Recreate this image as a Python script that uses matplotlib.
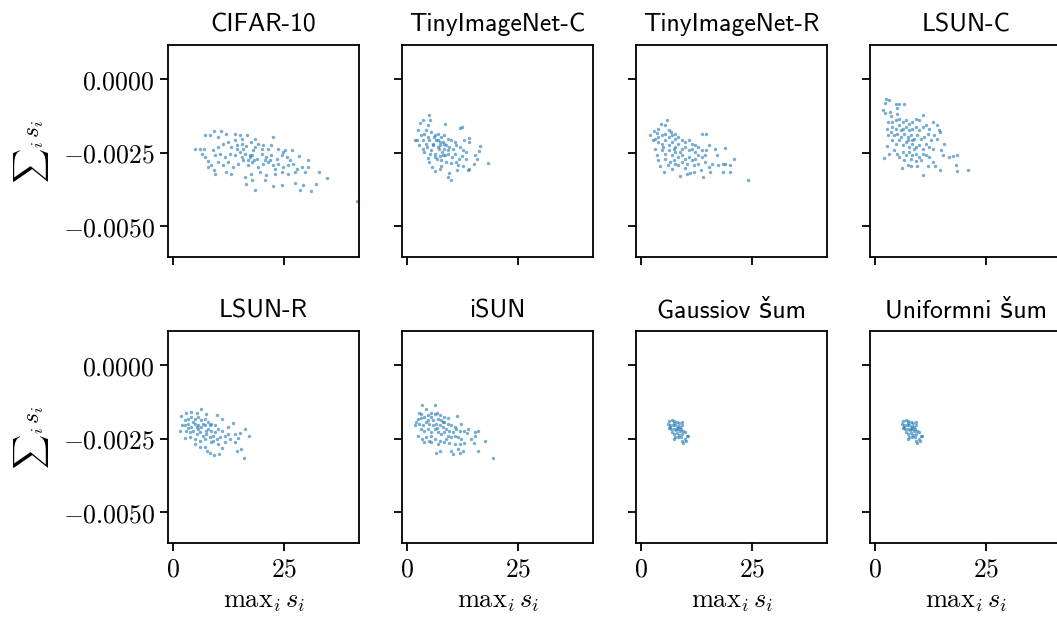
import numpy as np
import matplotlib.pyplot as plt
from matplotlib.ticker import FuncFormatter

# points: (max_i s_i, sum_i s_i in units of 1e-4)
cifar10 = [
    (4.9, -23.7), (6.0, -23.7), (7.0, -23.6), (6.5, -25.3), (7.1, -26.5), (7.9, -27.8), (7.9, -29.9),
    (8.6, -29.1), (9.4, -32.1), (9.2, -30.8), (7.3, -19.1), (8.3, -18.9), (9.2, -17.5), (10.7, -17.5),
    (10.1, -19.7), (12.0, -18.7), (13.9, -18.5), (15.0, -18.9), (16.7, -19.1), (18.4, -20.4), (22.5, -19.8),
    (15.5, -20.4), (13.9, -20.8), (9.0, -24.2), (10.1, -23.1), (11.3, -21.9), (12.4, -21.4), (13.1, -23.1),
    (14.3, -22.5), (15.4, -21.9), (16.5, -22.8), (17.6, -21.4), (19.1, -21.9), (20.3, -22.5), (21.4, -23.6),
    (22.1, -22.5), (23.6, -23.6), (24.8, -24.8), (9.4, -25.9), (10.5, -25.3), (11.6, -26.5), (12.8, -25.3),
    (13.9, -25.9), (15.0, -24.8), (16.1, -25.3), (17.3, -25.9), (18.0, -24.2), (18.8, -27.0), (19.9, -25.3),
    (21.0, -26.5), (22.1, -25.9), (23.3, -27.0), (24.4, -25.9), (25.5, -26.5), (26.3, -27.6), (10.1, -28.2),
    (11.3, -29.3), (12.4, -28.2), (13.5, -29.9), (14.6, -28.7), (15.8, -27.6), (16.9, -29.3), (17.8, -28.2),
    (19.1, -29.9), (20.3, -28.7), (21.4, -28.2), (22.5, -29.3), (23.6, -28.7), (24.8, -29.9), (25.9, -29.3),
    (27.0, -28.7), (27.8, -30.4), (28.9, -29.9), (12.0, -31.6), (13.1, -32.1), (16.1, -33.3), (17.6, -32.1),
    (19.5, -31.6), (21.0, -32.7), (22.9, -32.1), (24.4, -31.6), (25.9, -32.1), (27.4, -31.6), (29.7, -31.6),
    (16.5, -35.6), (18.4, -37.8), (17.8, -34.4), (20.6, -34.2), (22.5, -36.4), (24.4, -36.1), (27.4, -35.3),
    (29.3, -35.8), (28.5, -37.6), (30.9, -38.1), (32.1, -35.6), (32.7, -31.6), (34.5, -33.4), (30.4, -29.9),
    (30.3, -27.4), (28.2, -26.2), (26.7, -23.9), (25.2, -24.2), (41.3, -41.5), (17.3, -26.5), (17.8, -25.9),
    (18.2, -27.4), (16.9, -27.6), (15.4, -26.5), (20.6, -27.6), (21.8, -27.4), (22.9, -30.4), (14.3, -23.6),
    (18.4, -23.1), (19.9, -23.6), (15.8, -23.6),
]

tiny_c = [
    (5.0, -12.3), (3.5, -13.7), (5.2, -14.0), (3.0, -14.9), (4.7, -15.7), (8.6, -15.1), (11.8, -16.6),
    (12.3, -16.2), (2.4, -17.2), (4.3, -17.4), (14.0, -20.0), (13.9, -21.4), (12.9, -20.6), (16.5, -22.7),
    (16.1, -24.4), (15.2, -25.9), (15.7, -27.2), (18.2, -28.6), (15.0, -28.7), (14.0, -30.4), (13.8, -31.0),
    (11.3, -31.0), (9.5, -31.9), (9.3, -33.1), (9.8, -34.2), (7.7, -29.6), (6.2, -31.2), (5.6, -29.9),
    (7.3, -30.4), (12.5, -29.6), (11.4, -29.3), (1.8, -20.6), (2.3, -20.8), (2.8, -22.2), (3.5, -23.6),
    (3.9, -24.8), (4.7, -26.7), (5.2, -25.3), (5.0, -28.2), (3.2, -19.1), (3.9, -18.5), (4.7, -19.7),
    (5.4, -17.9), (6.2, -19.1), (6.9, -18.5), (7.7, -19.7), (8.4, -19.1), (9.2, -20.2), (9.9, -20.8),
    (10.7, -21.4), (3.5, -20.8), (4.3, -21.9), (5.0, -20.8), (5.8, -21.9), (6.5, -20.8), (7.3, -22.5),
    (8.0, -21.4), (8.8, -22.5), (9.5, -23.1), (10.3, -23.6), (11.0, -22.5), (11.8, -23.1), (12.5, -24.2),
    (13.3, -24.8), (4.5, -23.1), (5.4, -24.2), (6.3, -25.3), (7.1, -23.6), (7.8, -24.8), (8.6, -25.9),
    (9.3, -25.3), (10.1, -26.5), (10.8, -25.3), (11.6, -27.0), (12.3, -26.2), (13.3, -27.0), (6.8, -27.0),
    (7.7, -27.6), (8.8, -28.2), (9.9, -28.5), (11.0, -28.2), (6.2, -26.5), (8.0, -25.9), (9.2, -24.2),
    (6.9, -20.8), (8.4, -23.6), (5.8, -22.5), (6.9, -23.1), (7.3, -21.4), (6.0, -19.8), (8.2, -22.0),
    (7.5, -26.2),
]

tiny_r = [
    (5.8, -14.0), (4.5, -15.1), (5.3, -15.7), (3.9, -16.8), (3.0, -17.6), (6.3, -17.2), (6.8, -17.9),
    (2.0, -19.1), (13.7, -18.7), (14.6, -18.7), (3.5, -18.3), (7.7, -18.5), (2.6, -20.8), (3.2, -23.6),
    (3.5, -25.9), (3.9, -27.6), (5.2, -31.6), (4.3, -29.6), (6.0, -29.0), (6.9, -30.4), (8.8, -32.9),
    (10.3, -32.1), (11.0, -31.9), (11.8, -31.6), (14.0, -33.1), (13.5, -30.8), (15.5, -31.6), (15.2, -29.9),
    (15.9, -28.7), (18.5, -31.4), (19.9, -31.6), (17.3, -29.3), (18.3, -28.7), (18.9, -28.7), (20.0, -29.1),
    (20.9, -27.0), (18.9, -23.3), (16.5, -23.6), (17.0, -25.6), (15.3, -22.2), (14.6, -24.0), (9.9, -30.2),
    (8.4, -29.3), (7.5, -27.6), (3.2, -20.2), (3.9, -19.7), (4.7, -19.1), (5.4, -18.5), (6.2, -19.7),
    (6.9, -19.1), (7.7, -20.2), (8.4, -19.7), (9.2, -20.8), (9.9, -21.4), (10.7, -20.8), (11.4, -21.9),
    (12.2, -22.5), (12.9, -23.1), (13.7, -24.2), (3.9, -21.4), (4.7, -21.9), (5.4, -20.8), (6.2, -22.5),
    (6.9, -21.4), (7.7, -23.1), (8.4, -21.9), (9.2, -23.6), (9.9, -23.1), (10.7, -24.2), (11.4, -23.6),
    (12.2, -24.8), (12.9, -25.9), (13.7, -26.5), (14.4, -25.9), (4.7, -24.2), (5.4, -25.3), (6.2, -24.2),
    (6.9, -25.9), (7.7, -24.8), (8.4, -26.5), (9.2, -25.9), (9.9, -27.0), (10.7, -26.5), (11.4, -27.6),
    (12.2, -27.0), (5.4, -27.0), (6.5, -28.2), (7.7, -28.7), (9.2, -28.2), (10.3, -28.7), (11.8, -29.3),
    (12.9, -28.7), (14.4, -28.2), (5.0, -23.1), (7.3, -23.6), (8.8, -24.8), (24.0, -34.4),
]

lsun_c = [
    (2.4, -6.6), (3.2, -7.2), (2.3, -8.1), (4.7, -8.5), (5.4, -8.5), (6.4, -8.3), (4.9, -9.7),
    (1.8, -10.6), (2.3, -11.5), (3.3, -11.1), (5.0, -11.7), (3.5, -12.6), (2.8, -14.5), (2.6, -16.8),
    (3.0, -19.1), (2.6, -22.8), (2.0, -26.7), (3.2, -25.3), (10.7, -12.3), (9.2, -13.4), (9.9, -14.0),
    (12.9, -14.5), (14.0, -15.7), (14.3, -17.4), (14.6, -17.9), (13.3, -19.1), (13.9, -20.2), (15.5, -21.9),
    (14.8, -24.2), (15.3, -25.9), (16.5, -26.5), (17.6, -26.1), (18.5, -25.9), (18.2, -29.3), (18.5, -31.2),
    (20.9, -31.0), (14.6, -31.0), (13.5, -29.6), (11.8, -29.6), (10.8, -32.7), (9.5, -29.6), (8.0, -29.6),
    (6.0, -30.1), (7.3, -29.0), (12.9, -28.2), (12.2, -26.5), (3.9, -14.5), (4.7, -14.0), (5.4, -13.4),
    (6.2, -14.5), (6.9, -14.0), (7.7, -15.1), (8.4, -14.5), (3.9, -16.2), (4.7, -16.8), (5.4, -15.7),
    (6.2, -16.8), (6.9, -16.2), (7.7, -17.4), (8.4, -16.8), (9.2, -16.2), (9.9, -17.4), (10.7, -16.2),
    (11.4, -15.7), (12.2, -16.8), (3.5, -17.9), (4.3, -19.1), (5.0, -18.5), (5.8, -19.7), (6.5, -18.5),
    (7.3, -19.7), (8.0, -19.1), (8.8, -20.2), (9.5, -19.1), (10.3, -20.2), (11.0, -19.7), (11.8, -18.5),
    (12.5, -20.8), (3.9, -20.8), (4.7, -21.9), (5.4, -20.8), (6.2, -22.5), (6.9, -21.4), (7.7, -23.1),
    (8.4, -21.9), (9.2, -23.1), (9.9, -22.5), (10.7, -23.6), (11.4, -21.9), (12.2, -23.1), (12.9, -23.6),
    (4.3, -24.2), (5.0, -25.3), (6.2, -24.8), (6.9, -25.9), (7.7, -24.8), (8.4, -25.9), (9.2, -25.3),
    (9.9, -26.5), (10.7, -25.3), (11.4, -25.9), (5.4, -26.5), (6.5, -27.6), (8.0, -27.0), (9.2, -27.8),
    (10.3, -27.6), (7.3, -20.8), (8.8, -23.6), (5.8, -17.4), (8.3, -20.8),
]

lsun_r = [
    (6.2, -14.8), (4.1, -15.9), (5.3, -16.1), (3.0, -16.1), (7.5, -16.5), (9.8, -17.0), (1.7, -17.3),
    (10.9, -18.4), (1.5, -22.2), (2.0, -20.4), (2.6, -24.8), (13.5, -19.5), (12.4, -21.0), (13.9, -23.3),
    (16.1, -21.8), (15.0, -22.9), (17.0, -23.9), (14.6, -24.8), (14.0, -26.1), (15.2, -28.6), (14.3, -29.0),
    (16.0, -31.5), (12.8, -25.2), (11.6, -26.1), (11.0, -28.2), (10.3, -30.1), (9.2, -30.4), (8.3, -29.8),
    (7.7, -29.0), (7.1, -27.8), (6.0, -27.8), (5.0, -26.7), (2.6, -18.7), (3.4, -18.2), (4.1, -17.6),
    (4.9, -18.2), (5.6, -17.6), (6.4, -18.7), (7.1, -18.2), (7.9, -19.3), (8.6, -19.9), (9.4, -20.4),
    (2.6, -20.4), (3.4, -19.9), (4.1, -21.0), (4.9, -19.9), (5.6, -20.4), (6.4, -21.0), (7.1, -20.4),
    (7.9, -21.6), (8.6, -22.2), (9.4, -22.7), (10.1, -21.6), (10.9, -22.2), (3.0, -22.2), (3.8, -22.7),
    (4.5, -22.2), (5.3, -23.3), (6.0, -22.7), (6.8, -23.9), (7.5, -23.3), (8.3, -24.4), (9.0, -23.9),
    (9.8, -25.0), (10.5, -24.4), (11.6, -23.9), (12.4, -23.3), (3.8, -24.4), (4.9, -25.0), (6.0, -25.6),
    (7.1, -25.0), (8.6, -26.1), (10.1, -26.7), (4.5, -19.3), (5.6, -21.6), (7.5, -22.2), (6.8, -19.9),
    (5.3, -21.0), (8.3, -20.4), (3.4, -21.4), (9.0, -25.6),
]

isun = [
    (3.3, -13.6), (6.3, -13.4), (4.3, -14.8), (2.6, -16.1), (3.2, -16.5), (5.3, -16.1), (6.8, -16.1),
    (11.3, -17.3), (12.2, -20.1), (9.2, -17.9), (8.4, -17.6), (7.3, -17.0), (1.7, -20.2), (2.0, -19.3),
    (2.4, -23.9), (3.3, -25.0), (3.8, -26.1), (13.7, -21.6), (12.9, -22.5), (13.5, -22.9), (15.3, -22.7),
    (15.9, -22.5), (15.2, -23.9), (14.3, -25.0), (15.0, -26.4), (17.6, -25.6), (15.9, -29.0), (19.4, -31.6),
    (12.9, -26.4), (12.5, -29.0), (11.8, -29.8), (11.4, -28.4), (10.3, -30.1), (9.9, -29.0), (7.5, -29.0),
    (6.5, -29.8), (5.4, -26.1), (6.9, -26.7), (2.4, -18.2), (3.2, -17.9), (3.9, -17.6), (4.7, -17.0),
    (5.4, -17.6), (6.2, -16.5), (6.9, -18.2), (7.7, -18.7), (8.4, -19.3), (9.2, -19.9), (9.9, -20.4),
    (10.7, -21.0), (2.8, -19.9), (3.5, -20.4), (4.3, -19.3), (5.0, -19.9), (5.8, -18.7), (6.5, -19.9),
    (7.3, -20.4), (8.0, -21.0), (8.8, -21.6), (9.5, -22.2), (10.3, -22.7), (11.0, -21.8), (11.8, -22.2),
    (3.2, -21.8), (3.9, -22.5), (4.7, -21.6), (5.4, -22.7), (6.2, -21.6), (6.9, -22.7), (7.7, -23.3),
    (8.4, -22.7), (9.2, -23.9), (9.9, -24.4), (10.7, -23.9), (11.4, -24.4), (12.2, -25.0), (4.3, -24.4),
    (5.0, -25.6), (6.2, -25.0), (7.3, -25.6), (8.4, -26.1), (9.5, -26.4), (10.7, -26.7), (11.8, -26.7),
    (4.7, -18.7), (5.8, -20.4), (6.8, -21.4), (8.0, -19.3), (5.4, -23.9), (8.8, -25.0),
]

gauss_noise = [
    (6.3, -19.1), (6.9, -18.6), (7.5, -18.9), (8.0, -19.3), (8.6, -19.8), (6.0, -19.9), (6.5, -20.2),
    (7.1, -20.4), (7.7, -20.2), (8.3, -20.7), (8.8, -21.0), (9.2, -20.4), (6.2, -21.4), (6.8, -21.8),
    (7.3, -21.6), (7.8, -22.0), (8.4, -21.8), (9.0, -21.6), (9.5, -22.2), (6.9, -22.7), (7.5, -23.3),
    (8.0, -22.9), (8.6, -23.6), (9.2, -23.3), (9.8, -22.7), (7.3, -25.0), (7.7, -24.4), (8.3, -24.4),
    (9.0, -24.4), (9.3, -25.6), (9.5, -26.4), (9.9, -25.0), (10.3, -24.2), (10.5, -23.9), (10.1, -25.6),
    (6.5, -21.0), (8.8, -22.5), (8.0, -21.4), (7.3, -19.5), (9.2, -19.3),
]

uniform_noise = [
    (6.3, -19.0), (6.9, -18.6), (7.5, -18.9), (8.0, -19.3), (8.6, -19.8), (6.0, -19.9), (6.5, -20.2),
    (7.1, -20.4), (7.7, -20.2), (8.3, -20.7), (8.8, -21.0), (9.2, -20.4), (6.2, -21.4), (6.8, -21.8),
    (7.3, -21.6), (7.8, -22.0), (8.4, -21.8), (9.0, -21.6), (9.5, -22.2), (6.9, -22.7), (7.5, -23.3),
    (8.0, -22.9), (8.6, -23.6), (9.2, -23.3), (9.8, -22.7), (7.3, -25.0), (7.7, -24.4), (8.3, -24.4),
    (9.0, -24.4), (9.3, -25.6), (9.5, -26.4), (9.9, -25.0), (10.3, -24.2), (10.5, -23.9), (10.1, -25.6),
    (6.5, -21.0), (8.8, -22.5), (8.0, -21.4), (7.3, -19.5), (9.2, -19.3),
]

panels = [
    ("CIFAR-10", cifar10),
    ("TinyImageNet-C", tiny_c),
    ("TinyImageNet-R", tiny_r),
    ("LSUN-C", lsun_c),
    ("LSUN-R", lsun_r),
    ("iSUN", isun),
    ("Gaussiov šum", gauss_noise),
    ("Uniformni šum", uniform_noise),
]

plt.rcParams['mathtext.fontset'] = 'cm'

fig, axes = plt.subplots(2, 4, figsize=(10.57, 6.21), dpi=100, sharex=True, sharey=True)
fig.subplots_adjust(left=0.159, right=1.004, top=0.9275, bottom=0.1256, wspace=0.225, hspace=0.349)

for ax, (name, pts) in zip(axes.flat, panels):
    pts = np.array(pts)
    ax.scatter(pts[:, 0], pts[:, 1] * 1e-4, s=6, alpha=0.6, color='#1f77b4', linewidths=0)
    ax.set_title(name, family=['cmss10', 'DejaVu Sans'], fontsize=18.5, pad=10)
    for sp in ax.spines.values():
        sp.set_linewidth(1.3)
    ax.tick_params(width=1.3, length=6, labelsize=18.5)

ax = axes[0, 0]
ax.set_xlim(-1.1, 41.8)
ax.set_ylim(-0.00604, 0.00116)
ax.set_xticks([0, 25])
ax.set_yticks([0.0, -0.0025, -0.005])
ax.xaxis.set_major_formatter(FuncFormatter(lambda v, p: '$%d$' % round(v)))
ax.yaxis.set_major_formatter(FuncFormatter(lambda v, p: '$%.4f$' % v))

for a in axes[:, 0]:
    a.set_ylabel(r'${\sum}_i\, s_i$', fontsize=17, labelpad=8)
for a in axes[1, :]:
    a.set_xlabel(r'$\mathrm{max}_i\, s_i$', fontsize=19)

plt.savefig('out.png', dpi=100)
